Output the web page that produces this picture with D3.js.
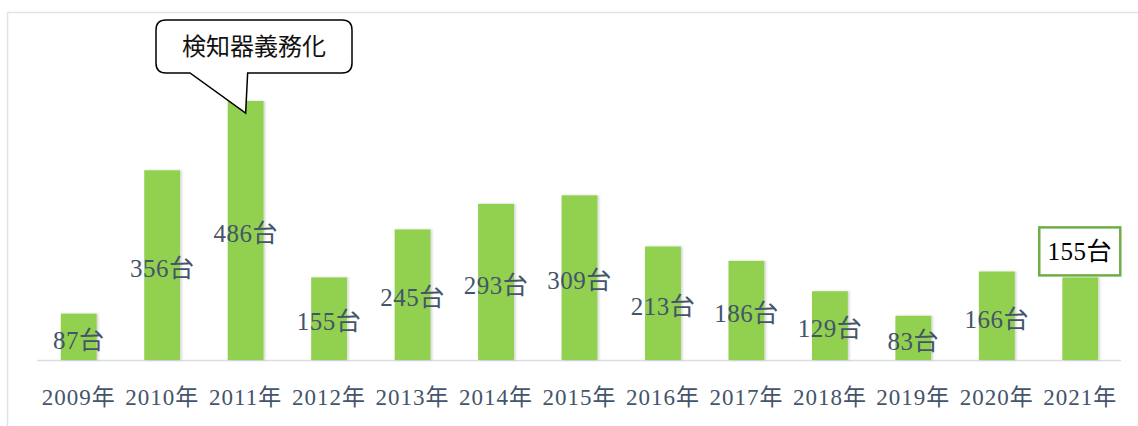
<!DOCTYPE html>
<html><head><meta charset="utf-8">
<script src="https://cdn.jsdelivr.net/npm/d3@7"></script>
<style>
html,body{margin:0;padding:0;background:#fff;}
svg{display:block;}
</style></head>
<body>
<svg id="c" width="1138" height="426"></svg>
<script>
const categories = ["2009年","2010年","2011年","2012年","2013年","2014年","2015年","2016年","2017年","2018年","2019年","2020年","2021年"];
const values = [87,356,486,155,245,293,309,213,186,129,83,166,155];
const unit = "台";
const calloutText = "検知器義務化";

const svg = d3.select("#c");
const serif = "'Liberation Serif','DejaVu Serif','Noto Sans CJK JP',serif";
const gothic = "'Noto Sans CJK JP','Noto Sans',sans-serif";

// chart frame (light)
svg.append("line").attr("x1",7.5).attr("x2",1138).attr("y1",12.5).attr("y2",12.5).attr("stroke","#dfe4ea").attr("stroke-width",1.5);
svg.append("line").attr("x1",7.5).attr("x2",7.5).attr("y1",12.5).attr("y2",426).attr("stroke","#dfe4ea").attr("stroke-width",1.5);

const x = d3.scaleBand().domain(categories).range([37,1122]).paddingInner(0.57).paddingOuter(0.285);
const y = d3.scaleLinear().domain([0,486]).range([360,101]);

const defs = svg.append("defs");
const f = defs.append("filter").attr("id","sh").attr("x","-20%").attr("y","-5%").attr("width","150%").attr("height","115%");
f.append("feDropShadow").attr("dx",1.5).attr("dy",0).attr("stdDeviation",1).attr("flood-color","#000").attr("flood-opacity",0.18);

// axis line
svg.append("line").attr("x1",37).attr("x2",1121).attr("y1",360.5).attr("y2",360.5).attr("stroke","#d9dee5").attr("stroke-width",1.5);

svg.append("g").selectAll("rect").data(values).join("rect")
  .attr("x",(d,i)=>x(categories[i])).attr("width",x.bandwidth())
  .attr("y",d=>y(d)).attr("height",d=>360-y(d))
  .attr("fill","#92d050").attr("filter","url(#sh)");

// x axis labels
const xa = d3.axisBottom(x).tickSize(0).tickPadding(0);
const g = svg.append("g").attr("transform","translate(0,360)").call(xa);
g.select(".domain").remove();
g.selectAll("text").attr("y",37).attr("dy","0.35em").attr("font-family",serif).attr("font-size",23)
  .attr("letter-spacing","1px").attr("fill","#44546a");

// value labels (all but last)
svg.append("g").selectAll("text").data(values.slice(0,-1)).join("text")
  .attr("x",(d,i)=>x(categories[i])+x.bandwidth()/2)
  .attr("y",d=>(y(d)+360)/2+3)
  .attr("dy","0.35em").attr("text-anchor","middle")
  .attr("font-family",serif).attr("font-size",25).attr("letter-spacing","0.5px").attr("fill","#44546a")
  .text(d=>d+unit);

// last label box
const li = values.length-1;
const lcx = x(categories[li])+x.bandwidth()/2;
const ly = y(values[li]);
svg.append("rect").attr("x",lcx-41).attr("y",ly-50).attr("width",81).attr("height",48)
  .attr("fill","#fff").attr("stroke","#70ad47").attr("stroke-width",2.5);
svg.append("text").attr("x",lcx-0.5).attr("y",ly-26).attr("dy","0.35em").attr("text-anchor","middle")
  .attr("font-family",serif).attr("font-size",25).attr("letter-spacing","0.5px").attr("fill","#000").text(values[li]+unit);

// callout
const cx = x(categories[2])+x.bandwidth()/2;
const ty = y(values[2]) + 12;
const L=156,R=352,T=20,B=73,r=10;
const path = `M${L+r},${T} H${R-r} Q${R},${T} ${R},${T+r} V${B-r} Q${R},${B} ${R-r},${B} H${cx+2} L${cx},${ty} L${190},${B} H${L+r} Q${L},${B} ${L},${B-r} V${T+r} Q${L},${T} ${L+r},${T} Z`;
svg.append("path").attr("d",path).attr("fill","#fff").attr("stroke","#000").attr("stroke-width",1.5);
svg.append("text").attr("x",(L+R)/2).attr("y",(T+B)/2).attr("dy","0.35em").attr("text-anchor","middle")
  .attr("font-family",gothic).attr("font-size",24).attr("fill","#111").text(calloutText);
</script>
</body></html>
